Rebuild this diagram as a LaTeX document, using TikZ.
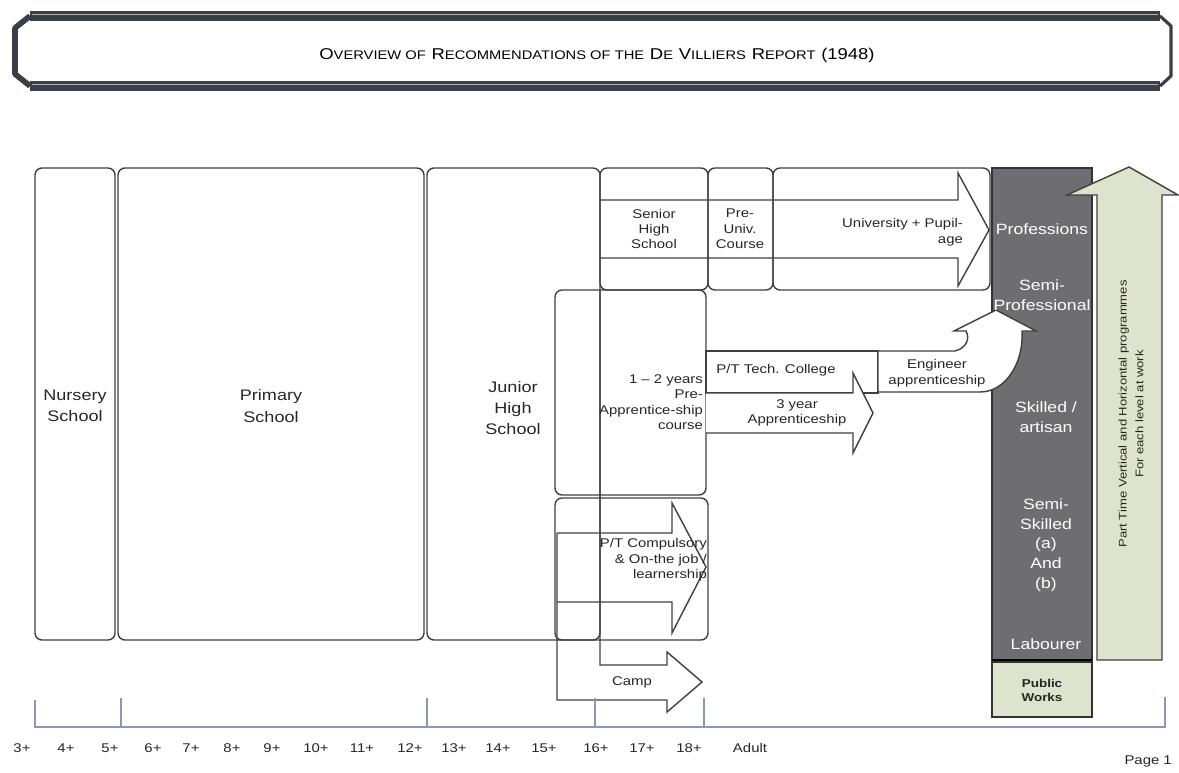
\documentclass[tikz,border=0pt]{standalone}
\usepackage{fontspec}
\setmainfont[FakeStretch=1.18]{Liberation Sans}
\usetikzlibrary{positioning}

\definecolor{bannergray}{HTML}{3B3E46}
\definecolor{jobgray}{HTML}{6E6E72}
\definecolor{palegreen}{HTML}{DEE3CD}
\definecolor{axisblue}{HTML}{8A98B8}

\newcommand{\smcap}[2]{{\fontsize{8.9}{10}\selectfont #1}{\fontsize{7.1}{8}\selectfont #2}}

\tikzset{
  schoolbox/.style={draw=black!75, line width=0.8pt, rounded corners=4pt},
  flowarrow/.style={draw=black!75, line width=0.8pt, line join=miter},
  bannerbar/.style={draw=bannergray, line width=6pt},
  bannerside/.style={draw=bannergray, line width=3.2pt, line join=round},
  boxtext/.style={font=\fontsize{8.7}{12}\selectfont, align=center, text=black!85},
  smalltext/.style={font=\fontsize{7.2}{8.8}\selectfont, align=center, text=black!85, inner sep=1pt},
  jobtext/.style={font=\fontsize{8.5}{11.3}\selectfont, align=center, text=white},
  agetext/.style={font=\fontsize{7.2}{8}\selectfont, text=black!85},
  axisline/.style={draw=axisblue, line width=0.8pt}
}

\begin{document}
\begin{tikzpicture}[x=0.02cm, y=-0.02cm]
\useasboundingbox (0,0) rectangle (1179,773);

% title banner
\draw[bannerbar] (30,16) -- (1160,16);
\draw[bannerbar] (30,86) -- (1160,86);
\draw[gray!60, line width=0.6pt] (32,14.5) -- (1158,14.5);
\draw[gray!60, line width=0.6pt] (32,84.5) -- (1158,84.5);
\draw[bannerside] (30,16) -- (15,28) -- (15,74) -- (30,86);
\draw[bannerside, line width=1.8pt] (1160,16) -- (1171,26) -- (1171,76) -- (1160,86);
\node (title) at (597,55) {\smcap{O}{VERVIEW OF} \smcap{R}{ECOMMENDATIONS OF THE} \smcap{D}{E} \smcap{V}{ILLIERS} \smcap{R}{EPORT} \smcap{(1948)}{}};

% school boxes
\draw[schoolbox] (35,168) rectangle (115,640);
\draw[schoolbox] (118,168) rectangle (424,640);
\draw[schoolbox] (427,168) rectangle (600,640);

% senior row
\draw[schoolbox] (600,168) rectangle (708,290);
\draw[schoolbox] (708,168) rectangle (773,290);
\draw[schoolbox] (773,168) rectangle (990,290);
\draw[flowarrow] (600,200) -- (958,200) -- (958,173) -- (989,230) -- (958,286) -- (958,258) -- (600,258);

% pre-apprenticeship and compulsory
\draw[schoolbox] (555,290) rectangle (706,495);
\draw[schoolbox] (555,498) rectangle (708,640);
\draw[flowarrow] (557,533) -- (672,533) -- (672,503) -- (706,567) -- (672,633) -- (672,602) -- (557,602);
\draw[flowarrow] (600,290) -- (600,665) -- (667,665) -- (667,652) -- (702,682) -- (667,712) -- (667,700) -- (557,700) -- (557,533);

% tech college and apprenticeship
\draw[flowarrow, fill=white] (706,351) rectangle (878,393);
\draw[flowarrow, fill=white] (706,393) -- (853,393) -- (853,373) -- (873,413) -- (853,453) -- (853,433) -- (706,433);

% occupation levels
\fill[jobgray] (992,168) rectangle (1092,660);
\draw[black!80, line width=0.8pt] (992,168) rectangle (1092,660);
\draw[black, line width=1.6pt] (992,660) -- (1092,660);
\draw[flowarrow, fill=white] (878,351) -- (955,351) .. controls (967,348) and (970,338) .. (966,331) -- (954,331) -- (996,310) -- (1036,331) -- (1022,331) .. controls (1024,362) and (1006,392) .. (980,392) -- (878,392) -- cycle;
\draw[black!80, line width=0.8pt, fill=palegreen] (992,662) rectangle (1092,717);
\draw[flowarrow, fill=palegreen] (1097,660) -- (1097,195) -- (1067,195) -- (1129,167) -- (1178,195) -- (1162,195) -- (1162,660) -- cycle;

% age axis
\draw[axisline] (35,700) -- (35,727) -- (1165,727) -- (1165,697);
\foreach \t in {121,427,595,704}
  \draw[axisline] (\t,698) -- (\t,727);
\foreach \x/\a [count=\i] in {22/3+,66/4+,110/5+,153/6+,191/7+,232/8+,272/9+,316/10+,362/11+,410/12+,454/13+,498/14+,544/15+,596/16+,642/17+,689/18+,750/Adult}
  \node[agetext] (age\i) at (\x,748) {\a};
\node[agetext, anchor=east] (page) at (1178,761) {Page 1};

% labels
\node[boxtext] (nursery) at (75,406) {Nursery\\School};
\node[boxtext] (primary) at (271,406) {Primary\\School};
\node[boxtext] (juniorhigh) at (513,408) {Junior\\High\\School};
\node[smalltext] (seniorhigh) at (654,229) {Senior\\High\\School};
\node[smalltext] (preuniv) at (740,229) {Pre-\\Univ.\\Course};
\node[smalltext, anchor=east, align=right] (university) at (965,232) {University + Pupil-\\age};
\node[smalltext, anchor=east, align=right] (preapp) at (705,402) {1 – 2 years\\Pre-\\Apprentice-ship\\course};
\node[smalltext] (techcollege) at (776,370) {P/T Tech. College};
\node[smalltext] (engineer) at (937,373) {Engineer\\apprenticeship};
\node[smalltext] (threeyear) at (797,413) {3 year\\Apprenticeship};
\node[smalltext, anchor=east, align=right] (compulsory) at (709,560) {P/T Compulsory\\\& On-the job /\\learnership};
\node[smalltext] (camp) at (632,682) {Camp};
\node[jobtext] (professions) at (1042,229) {Professions};
\node[jobtext] (semiprof) at (1042,295) {Semi-\\Professional};
\node[jobtext] (skilled) at (1046,417) {Skilled /\\artisan};
\node[jobtext] (semiskilled) at (1046,545) {Semi-\\Skilled\\(a)\\And\\(b)};
\node[jobtext] (labourer) at (1046,644) {Labourer};
\node[smalltext, font=\fontsize{6.5}{8}\selectfont\bfseries] (publicworks) at (1042,690) {Public\\Works};
\node[smalltext, rotate=90, font=\fontsize{6.3}{9.6}\selectfont] (parttime) at (1131,414) {Part Time Vertical and Horizontal programmes\\For each level at work};
\end{tikzpicture}
\end{document}
